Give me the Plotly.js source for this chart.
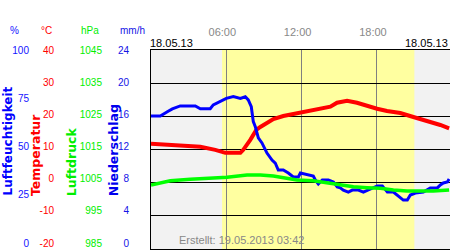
<!DOCTYPE html>
<html>
<head>
<meta charset="utf-8">
<script src="https://cdn.plot.ly/plotly-3.0.1.min.js"></script>
<style>body{margin:0;padding:0;background:#fff}#chart{width:450px;height:250px}</style>
</head>
<body>
<div id="chart"></div>
<script>
// Time in hours (18.05.13)
const humHours = [0,0.74,1.3,1.7,2.33,3.53,3.93,4.72,4.96,5.52,6.0,6.56,7.12,7.51,7.75,7.99,8.15,8.31,8.45,8.55,8.84,9.24,9.64,9.9,10.14,10.54,10.94,11.34,11.74,11.9,12.93,13.09,13.33,13.65,14.13,14.53,14.84,15.08,15.32,15.72,16.04,16.52,16.92,17.24,18.03,18.43,18.83,19.31,19.62,19.86,20.1,20.42,20.66,21.06,21.7,22.25,22.81,23.05,23.29,23.61,23.75];
const humidity = [66.8,66.8,69.0,70.4,71.9,71.9,70.5,70.5,72.4,74.0,75.7,76.6,75.7,76.5,74.9,71.5,64.0,61.5,58.3,55.8,53.3,48.2,44.7,43.2,39.7,39.7,38.2,36.2,36.2,38.2,36.7,34.7,32.7,34.7,34.7,33.7,31.2,30.7,29.6,28.6,29.6,29.6,28.6,29.6,31.7,31.7,28.6,28.6,27.1,25.6,24.6,24.6,27.1,28.1,28.6,30.7,30.7,32.2,33.2,33.7,35.2];

const tempHours = [0,1.94,3.93,5.12,5.92,7.12,7.35,7.91,8.39,8.71,9.24,9.75,10.54,11.34,11.9,13.49,14.29,14.82,15.62,16.41,17.21,18.01,18.8,19.86,20.9,21.99,23.05,23.75];
const temperature = [11.7,11.4,10.8,9.9,9.0,9.0,9.9,12.9,15.9,16.8,18.0,19.2,20.1,20.7,21.2,22.1,22.9,24.1,24.7,24.1,23.1,22.3,21.6,21.0,19.8,18.7,17.4,16.4];

const presHours = [0,1.54,3.13,4.73,6.06,7.65,8.71,9.75,10.84,11.63,12.93,14.02,15.08,16.12,17.21,18.27,19.31,20.4,21.46,22.49,23.75];
const pressure = [1004.3,1005.6,1006.0,1006.3,1006.6,1007.3,1007.3,1007.0,1006.3,1005.8,1005.6,1005.0,1004.5,1003.8,1003.5,1003.3,1002.8,1002.5,1002.5,1002.5,1002.8];

const precipHours = [];
const precipitation = [];

const hourTicks = [6,12,18];
const hourLabels = ['06:00','12:00','18:00'];
const humTicks = [0,25,50,75,100];
const tempTicks = [-20,-10,0,10,20,30,40];
const presTicks = [985,995,1005,1015,1025,1035,1045];
const precipTicks = [0,4,8,12,16,20,24];
const daylight = [5.66, 20.98];

const F = 'Arial, "Liberation Sans", sans-serif';
const BLUE = '#1414ff', RED = '#ff0000', GREEN = '#00ee00', BLUE2 = '#1414e6';

const traces = [
  {x: humHours, y: humidity, yaxis: 'y', mode: 'lines', line: {color: '#0000ff', width: 3}, hoverinfo: 'skip'},
  {x: presHours, y: pressure, yaxis: 'y3', mode: 'lines', line: {color: '#00ff00', width: 3.5}, hoverinfo: 'skip'},
  {x: tempHours, y: temperature, yaxis: 'y2', mode: 'lines', line: {color: '#ff0000', width: 4}, hoverinfo: 'skip'},
  {x: precipHours, y: precipitation, yaxis: 'y4', type: 'bar', marker: {color: '#0000cc'}, hoverinfo: 'skip'}
];

// data axes (hidden labels)
function dax(range, extra) {
  return Object.assign({
    range: range, anchor: 'x', side: 'left', ticks: '', showticklabels: false,
    showgrid: false, zeroline: false, showline: false, fixedrange: true
  }, extra || {});
}
// label axes: the printed scale sits slightly tighter than the grid (labels from y=50 to y=243)
function lax(ticks, color, standoff) {
  const lo = ticks[0], hi = ticks[ticks.length - 1];
  return {
    range: [lo - (hi - lo) * 6 / 193, hi], tickvals: ticks, ticktext: ticks.map(String),
    anchor: 'x', side: 'left', overlaying: 'y2', ticks: '', showgrid: false, zeroline: false,
    showline: false, fixedrange: true, ticklabelstandoff: standoff,
    tickfont: {family: F, size: 10, color: color}
  };
}

const layout = {
  width: 450, height: 250,
  margin: {l: 0, r: 0, t: 50, b: 1},
  paper_bgcolor: '#ffffff', plot_bgcolor: '#f2f2f2',
  showlegend: false,
  xaxis: {
    domain: [151/450, 1], range: [0, 23.82], side: 'top',
    tickvals: hourTicks, ticktext: hourLabels,
    ticks: '', ticklabelstandoff: 9, ticklabelshift: -4,
    tickfont: {family: F, size: 11, color: '#888888'},
    showgrid: true, gridcolor: '#808080', gridwidth: 1,
    zeroline: false, showline: true, linecolor: '#000000', linewidth: 1, mirror: true,
    fixedrange: true
  },
  yaxis2: dax([-20, 40], {tickvals: tempTicks, showgrid: true, gridcolor: '#000000', gridwidth: 1, showline: true, linecolor: '#000000', linewidth: 1}),
  yaxis: dax([0, 100], {overlaying: 'y2'}),
  yaxis3: dax([985, 1045], {overlaying: 'y2'}),
  yaxis4: dax([0, 24], {overlaying: 'y2'}),
  yaxis5: lax(humTicks, BLUE, 121),
  yaxis6: lax(tempTicks, RED, 96),
  yaxis7: lax(presTicks, GREEN, 48),
  yaxis8: lax(precipTicks, BLUE2, 21),
  shapes: [
    {type: 'rect', xref: 'x', yref: 'paper', x0: daylight[0], x1: daylight[1], y0: 0, y1: 1,
     fillcolor: '#ffffa0', line: {width: 0}, layer: 'below'}
  ],
  annotations: [
    {text: '%', x: 14/450, y: (249-30)/199, font: {family: F, size: 10, color: BLUE}},
    {text: '°C', x: 46.5/450, y: (249-30)/199, font: {family: F, size: 10, color: RED}},
    {text: 'hPa', x: 90/450, y: (249-30)/199, font: {family: F, size: 10, color: GREEN}},
    {text: 'mm/h', x: 132/450, y: (249-30)/199, font: {family: F, size: 10, color: BLUE2}},
    {text: '18.05.13', x: 171.5/450, y: (249-43)/199, font: {family: F, size: 11, color: '#000000'}},
    {text: '18.05.13', x: 426/450, y: (249-43)/199, font: {family: F, size: 11, color: '#000000'}},
    {text: 'Erstellt: 19.05.2013 03:42', x: 241/450, y: (249-240)/199, font: {family: F, size: 11, color: '#888888'}},
    {text: '<b>Luftfeuchtigkeit</b>', x: 7/450, y: (249-198)/199, textangle: -90, yanchor: 'bottom', font: {family: '"DejaVu Sans", sans-serif', size: 12, color: '#0000ff'}},
    {text: '<b>Temperatur</b>', x: 35/450, y: (249-198)/199, textangle: -90, yanchor: 'bottom', font: {family: '"DejaVu Sans", sans-serif', size: 12.5, color: '#ff0000'}},
    {text: '<b>Luftdruck</b>', x: 71.7/450, y: (249-198)/199, textangle: -90, yanchor: 'bottom', font: {family: '"DejaVu Sans", sans-serif', size: 12.5, color: '#00ee00'}},
    {text: '<b>Niederschlag</b>', x: 113.3/450, y: (249-198)/199, textangle: -90, yanchor: 'bottom', font: {family: '"DejaVu Sans", sans-serif', size: 12.5, color: '#0000ee'}}
  ].map(a => Object.assign({xref: 'paper', yref: 'paper', showarrow: false, xanchor: 'center', yanchor: 'middle'}, a))
};

// a label axis needs something bound to it so it is drawn
traces.push({x: [], y: [], yaxis: 'y5', mode: 'lines', hoverinfo: 'skip'});
traces.push({x: [], y: [], yaxis: 'y6', mode: 'lines', hoverinfo: 'skip'});
traces.push({x: [], y: [], yaxis: 'y7', mode: 'lines', hoverinfo: 'skip'});
traces.push({x: [], y: [], yaxis: 'y8', mode: 'lines', hoverinfo: 'skip'});

Plotly.newPlot('chart', traces, layout, {staticPlot: true, displayModeBar: false});
</script>
</body>
</html>
